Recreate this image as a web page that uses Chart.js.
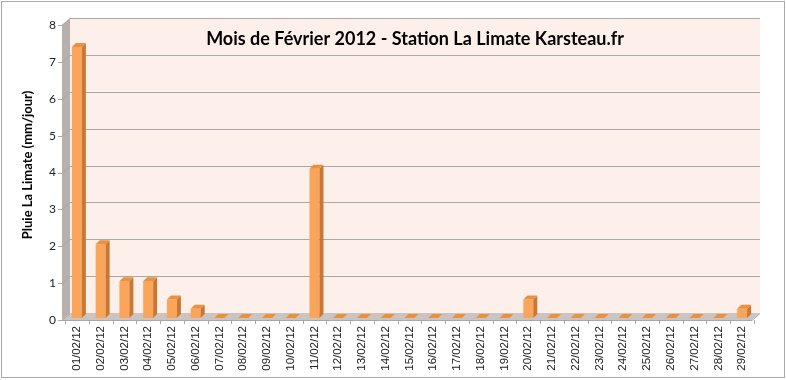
<!DOCTYPE html>
<html>
<head>
<meta charset="utf-8">
<script src="https://cdn.jsdelivr.net/npm/chart.js@4"></script>
<style>
  html, body { margin: 0; padding: 0; background: #fff; }
  #wrap { width: 786px; height: 380px; }
</style>
</head>
<body>
<div id="wrap"><canvas id="barChart"></canvas></div>
<script>
// Données pluie février 2012
const labels = [
    "01/02/12", "02/02/12", "03/02/12", "04/02/12", "05/02/12", "06/02/12", "07/02/12",
    "08/02/12", "09/02/12", "10/02/12", "11/02/12", "12/02/12", "13/02/12", "14/02/12",
    "15/02/12", "16/02/12", "17/02/12", "18/02/12", "19/02/12", "20/02/12", "21/02/12",
    "22/02/12", "23/02/12", "24/02/12", "25/02/12", "26/02/12", "27/02/12", "28/02/12",
    "29/02/12"
];

const pluie = [
    7.35, 2, 1, 1, 0.5, 0.25, 0, 0, 0, 0,
    4.05, 0, 0, 0, 0, 0, 0, 0, 0, 0.5,
    0, 0, 0, 0, 0, 0, 0, 0, 0.25
];

const yMin = 0;
const yMax = 8;

const titre = "Mois de Février 2012 - Station La Limate Karsteau.fr";
const titreAxeY = "Pluie La Limate (mm/jour)";

// Effet 3D façon Excel : murs, sol, faces des barres
const relief = {
    id: 'relief',
    beforeDraw(chart) {
        const ctx = chart.ctx;
        ctx.save();
        ctx.fillStyle = '#fff';
        ctx.fillRect(0, 0, chart.width, chart.height);
        ctx.strokeStyle = '#a9a9a9';
        ctx.lineWidth = 1;
        ctx.strokeRect(1.5, 1.5, 783, 376);
        ctx.restore();
    },
    beforeDatasetsDraw(chart) {
        const { ctx, chartArea: a, scales: { x, y } } = chart;
        const dx = 8, dy = -7;
        const L = a.left - 3, R = a.right - 2, B = a.bottom, T = y.getPixelForValue(yMax);
        ctx.save();
        // mur du fond
        ctx.fillStyle = '#fdf0ea';
        ctx.fillRect(L + dx, T + dy, R - L, B - T);
        // mur gauche
        ctx.fillStyle = '#b8b0ac';
        ctx.beginPath();
        ctx.moveTo(L, T); ctx.lineTo(L + dx, T + dy); ctx.lineTo(L + dx, B + dy); ctx.lineTo(L, B);
        ctx.closePath(); ctx.fill();
        // sol
        ctx.fillStyle = '#cbc4c0';
        ctx.beginPath();
        ctx.moveTo(L, B); ctx.lineTo(L + dx, B + dy); ctx.lineTo(R + dx, B + dy); ctx.lineTo(R, B);
        ctx.closePath(); ctx.fill();
        // quadrillage
        ctx.strokeStyle = '#a8a8a8';
        ctx.lineWidth = 1;
        for (let v = yMin; v <= yMax; v++) {
            const py = Math.round(y.getPixelForValue(v)) + 0.5;
            ctx.beginPath();
            if (v > yMin) {
                ctx.moveTo(L + dx, py + dy);
                ctx.lineTo(R + dx, py + dy);
            }
            ctx.moveTo(L - 4, py);
            ctx.lineTo(L, py);
            ctx.lineTo(L + dx, py + dy);
            ctx.stroke();
        }
        // axe X et graduations
        ctx.beginPath();
        ctx.moveTo(L, B + 0.5); ctx.lineTo(R, B + 0.5);
        ctx.moveTo(R, B + 0.5); ctx.lineTo(R + dx, B + dy + 0.5);
        const step = (a.right - a.left) / labels.length;
        for (let i = 0; i <= labels.length; i++) {
            const px = Math.round(a.left + i * step) + 0.5;
            ctx.moveTo(px, B);
            ctx.lineTo(px, B + 4);
        }
        ctx.stroke();
        // titres
        ctx.fillStyle = '#000';
        ctx.textAlign = 'center';
        ctx.textBaseline = 'middle';
        ctx.font = 'bold 18px Lato';
        ctx.fillText(titre, 415, 39);
        ctx.translate(28, 165);
        ctx.rotate(-Math.PI / 2);
        ctx.font = 'bold 13px Lato';
        ctx.fillText(titreAxeY, 0, 0);
        ctx.restore();
        // les barres sont posées au milieu de la profondeur
        ctx.save();
        ctx.translate(0, -2);
    },
    afterDatasetsDraw(chart) {
        const ctx = chart.ctx;
        const bdx = 4, bdy = -4;
        chart.getDatasetMeta(0).data.forEach(bar => {
            const l = bar.x - bar.width / 2, r = bar.x + bar.width / 2;
            const top = bar.y, base = bar.base;
            ctx.fillStyle = '#c97733';
            ctx.beginPath();
            ctx.moveTo(r, top); ctx.lineTo(r + bdx, top + bdy); ctx.lineTo(r + bdx, base + bdy); ctx.lineTo(r, base);
            ctx.closePath(); ctx.fill();
            ctx.fillStyle = '#e8913f';
            ctx.beginPath();
            ctx.moveTo(l, top); ctx.lineTo(l + bdx, top + bdy); ctx.lineTo(r + bdx, top + bdy); ctx.lineTo(r, top);
            ctx.closePath(); ctx.fill();
        });
        ctx.restore();
    }
};

const ctx = document.getElementById('barChart').getContext('2d');
const barChart = new Chart(ctx, {
    type: 'bar',
    data: {
        labels: labels,
        datasets: [{
            label: 'Pluie La Limate',
            data: pluie,
            backgroundColor: '#fba55b',
            borderWidth: 0,
            barPercentage: 0.42,
            categoryPercentage: 1
        }]
    },
    options: {
        responsive: true,
        maintainAspectRatio: false,
        animation: false,
        layout: { padding: { left: 10, top: 25, right: 32, bottom: 4 } },
        plugins: {
            legend: { display: false },
            tooltip: { enabled: false }
        },
        scales: {
            x: {
                grid: { display: false, drawTicks: false },
                border: { display: false },
                ticks: {
                    minRotation: 90,
                    maxRotation: 90,
                    autoSkip: false,
                    padding: 6,
                    color: '#222',
                    font: { family: '"Liberation Sans"', size: 11.5 }
                },
                afterFit: s => { s.height = 56; }
            },
            y: {
                min: yMin,
                max: yMax,
                grid: { display: false, drawTicks: false },
                border: { display: false },
                ticks: {
                    stepSize: 1,
                    padding: 9,
                    color: '#222',
                    font: { family: 'Lato', size: 12 }
                },
                afterFit: s => { s.width = 55; }
            }
        }
    },
    plugins: [relief]
});
</script>
</body>
</html>
